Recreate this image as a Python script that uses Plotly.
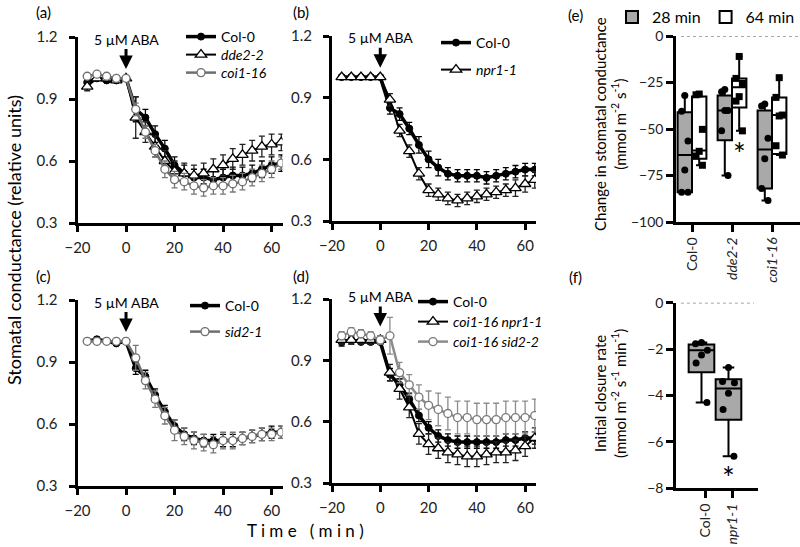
import plotly.graph_objects as go

W, H = 800, 547
FONT = "Lato"

def fx(p):
    return p / W

def fy(p):
    return 1 - p / H

# ---------------- data ----------------
t = [-16, -12, -8, -4, 0, 4, 8, 12, 16, 20, 24, 28, 32, 36, 40, 44, 48, 52, 56, 60, 64]

a_col0 = [0.98, 1.00, 0.99, 0.99, 1.00, 0.85, 0.81, 0.73, 0.66, 0.58, 0.54, 0.52, 0.52, 0.51, 0.52, 0.53, 0.53, 0.54, 0.56, 0.58, 0.59]
a_col0_e = [0.01, 0.01, 0.01, 0.01, 0.01, 0.06, 0.04, 0.04, 0.04, 0.04, 0.04, 0.04, 0.04, 0.04, 0.04, 0.04, 0.04, 0.04, 0.04, 0.04, 0.04]
a_dde = [0.96, 1.00, 1.00, 0.99, 1.00, 0.81, 0.74, 0.67, 0.60, 0.55, 0.54, 0.53, 0.54, 0.56, 0.58, 0.61, 0.63, 0.65, 0.67, 0.68, 0.69]
a_dde_e = [0.02, 0.01, 0.01, 0.01, 0.01, 0.10, 0.05, 0.05, 0.05, 0.05, 0.05, 0.05, 0.05, 0.05, 0.05, 0.05, 0.05, 0.05, 0.05, 0.05, 0.04]
a_coi = [1.01, 1.02, 1.01, 1.00, 1.00, 0.85, 0.74, 0.65, 0.56, 0.51, 0.50, 0.48, 0.47, 0.48, 0.48, 0.49, 0.50, 0.52, 0.54, 0.56, 0.59]
a_coi_e = [0.01, 0.01, 0.01, 0.01, 0.01, 0.03, 0.03, 0.03, 0.04, 0.04, 0.04, 0.04, 0.04, 0.04, 0.04, 0.04, 0.04, 0.04, 0.04, 0.04, 0.03]

b_col0 = [1.00, 1.00, 1.00, 1.00, 1.00, 0.85, 0.82, 0.75, 0.67, 0.60, 0.56, 0.53, 0.52, 0.52, 0.52, 0.51, 0.52, 0.53, 0.54, 0.55, 0.55]
b_col0_e = [0.01, 0.01, 0.01, 0.01, 0.01, 0.03, 0.03, 0.03, 0.04, 0.04, 0.04, 0.03, 0.03, 0.03, 0.03, 0.03, 0.03, 0.03, 0.03, 0.03, 0.03]
b_npr = [1.00, 1.00, 1.00, 1.00, 1.00, 0.89, 0.74, 0.64, 0.53, 0.45, 0.43, 0.41, 0.40, 0.41, 0.42, 0.43, 0.44, 0.45, 0.46, 0.48, 0.50]
b_npr_e = [0.01, 0.01, 0.01, 0.01, 0.01, 0.03, 0.03, 0.03, 0.03, 0.03, 0.03, 0.03, 0.03, 0.03, 0.03, 0.03, 0.03, 0.03, 0.04, 0.04, 0.04]

c_col0 = [1.00, 1.01, 1.00, 0.99, 1.00, 0.87, 0.83, 0.74, 0.66, 0.59, 0.55, 0.53, 0.52, 0.52, 0.52, 0.52, 0.53, 0.54, 0.55, 0.56, 0.56]
c_col0_e = [0.01, 0.01, 0.01, 0.01, 0.01, 0.03, 0.03, 0.03, 0.03, 0.03, 0.03, 0.03, 0.03, 0.03, 0.03, 0.03, 0.03, 0.03, 0.03, 0.03, 0.03]
c_sid = [1.00, 1.00, 1.00, 1.00, 1.00, 0.92, 0.81, 0.72, 0.64, 0.57, 0.54, 0.52, 0.51, 0.50, 0.52, 0.52, 0.53, 0.54, 0.55, 0.55, 0.56]
c_sid_e = [0.01, 0.01, 0.01, 0.01, 0.01, 0.06, 0.04, 0.04, 0.04, 0.05, 0.04, 0.04, 0.04, 0.04, 0.04, 0.04, 0.03, 0.03, 0.03, 0.03, 0.03]

d_col0 = [0.99, 1.00, 0.99, 0.99, 0.99, 0.83, 0.78, 0.71, 0.63, 0.57, 0.53, 0.51, 0.50, 0.50, 0.50, 0.50, 0.50, 0.51, 0.51, 0.52, 0.52]
d_col0_e = [0.02, 0.02, 0.01, 0.01, 0.01, 0.03, 0.03, 0.03, 0.03, 0.03, 0.03, 0.03, 0.03, 0.03, 0.03, 0.03, 0.03, 0.03, 0.03, 0.03, 0.03]
d_npr = [1.00, 1.00, 1.00, 1.00, 1.00, 0.84, 0.76, 0.67, 0.54, 0.49, 0.47, 0.45, 0.44, 0.43, 0.43, 0.44, 0.45, 0.45, 0.46, 0.48, 0.52]
d_npr_e = [0.02, 0.02, 0.02, 0.02, 0.02, 0.04, 0.05, 0.05, 0.05, 0.05, 0.05, 0.05, 0.05, 0.05, 0.05, 0.05, 0.05, 0.05, 0.05, 0.05, 0.05]
d_sid = [1.02, 1.04, 1.03, 1.02, 1.00, 1.02, 0.84, 0.78, 0.72, 0.68, 0.66, 0.64, 0.62, 0.62, 0.61, 0.61, 0.61, 0.62, 0.62, 0.62, 0.63]
d_sid_e = [0.02, 0.02, 0.02, 0.02, 0.02, 0.09, 0.05, 0.05, 0.06, 0.07, 0.08, 0.08, 0.08, 0.08, 0.08, 0.08, 0.08, 0.08, 0.08, 0.08, 0.08]

# panel e: change in stomatal conductance (mmol m-2 s-1)
e_groups = ["Col-0", "<i>dde2-2</i>", "<i>coi1-16</i>"]
e28_upper = [-32.0, -28.7, -36.6]
e28_q3 = [-41.0, -32.0, -40.0]
e28_median = [-64.0, -40.0, -61.0]
e28_q1 = [-84.0, -56.0, -82.0]
e28_lower = [-84.0, -75.0, -88.5]
e28_points = [[-32.0, -40.5, -56.5, -72.0, -84.0, -84.0],
              [-28.7, -30.0, -40.0, -40.0, -51.0, -75.0],
              [-36.6, -37.6, -55.0, -66.0, -82.0, -88.5]]
e64_upper = [-31.2, -11.0, -22.4]
e64_q3 = [-32.5, -22.8, -33.0]
e64_median = [-61.5, -27.5, -42.5]
e64_q1 = [-66.0, -38.5, -63.5]
e64_lower = [-69.5, -51.0, -64.0]
e64_points = [[-31.2, -31.6, -50.2, -62.0, -64.5, -69.5],
              [-11.0, -22.8, -25.5, -32.6, -35.0, -51.0],
              [-22.4, -33.0, -42.5, -43.0, -59.0, -64.0]]

# panel f: initial closure rate
f_groups = ["Col-0", "<i>npr1-1</i>"]
f_upper = [-1.72, -2.79]
f_q3 = [-1.80, -3.30]
f_median = [-2.05, -3.70]
f_q1 = [-3.00, -5.05]
f_lower = [-4.30, -6.62]
f_points = [[-1.72, -1.77, -2.05, -2.25, -2.60, -4.30],
            [-2.79, -3.40, -3.45, -3.90, -4.60, -6.62]]

# ---------------- figure ----------------
fig = go.Figure()

STY = {
    "col0": dict(line=dict(color="black", width=3.5),
                 marker=dict(symbol="circle", size=7, color="black", line=dict(color="black", width=1)),
                 ecol="black"),
    "tri": dict(line=dict(color="black", width=2),
                marker=dict(symbol="triangle-up", size=10, color="white", line=dict(color="black", width=1.3)),
                ecol="#222222"),
    "circ": dict(line=dict(color="#6e6e6e", width=2.5),
                 marker=dict(symbol="circle", size=8, color="white", line=dict(color="#6e6e6e", width=1.3)),
                 ecol="#777777"),
    "circl": dict(line=dict(color="#8c8c8c", width=2.5),
                  marker=dict(symbol="circle", size=8, color="white", line=dict(color="#7a7a7a", width=1.3)),
                  ecol="#8c8c8c"),
}

legends = {}
LEG_FONT = dict(size=14, color="black", family=FONT)


def add_series(n, y, err, name, sty, leg_key, leg_px, leg_py):
    s = STY[sty]
    sfx = "" if n == 1 else str(n)
    fig.add_trace(go.Scatter(
        x=t, y=y, name=name, mode="lines+markers",
        line=s["line"], marker=s["marker"],
        error_y=dict(type="data", array=err, color=s["ecol"], thickness=1.3, width=3),
        xaxis="x" + sfx, yaxis="y" + sfx, legend=leg_key,
    ))
    legends[leg_key] = dict(bgcolor="rgba(0,0,0,0)", font=LEG_FONT, x=fx(leg_px), y=fy(leg_py),
                            xanchor="left", yanchor="middle")


add_series(1, a_col0, a_col0_e, "Col-0", "col0", "legend", 181, 37)
add_series(1, a_dde, a_dde_e, "<i>dde2-2</i>", "tri", "legend2", 181, 55)
add_series(1, a_coi, a_coi_e, "<i>coi1-16</i>", "circ", "legend3", 181, 73)

add_series(2, b_col0, b_col0_e, "Col-0", "col0", "legend4", 436, 43)
add_series(2, b_npr, b_npr_e, "<i>npr1-1</i>", "tri", "legend5", 436, 70)

add_series(3, c_col0, c_col0_e, "Col-0", "col0", "legend6", 185, 306)
add_series(3, c_sid, c_sid_e, "<i>sid2-1</i>", "circ", "legend7", 185, 332)

add_series(4, d_col0, d_col0_e, "Col-0", "col0", "legend8", 413, 302)
add_series(4, d_npr, d_npr_e, "<i>coi1-16 npr1-1</i>", "tri", "legend9", 413, 322)
add_series(4, d_sid, d_sid_e, "<i>coi1-16 sid2-2</i>", "circl", "legend10", 413, 342)

# panel e boxes
E_OFF = 0.18
E_W = 0.36
jit = [0.0, -0.08, 0.08, 0.0, -0.08, 0.08]
pos28 = [i - E_OFF for i in range(len(e_groups))]
pos64 = [i + E_OFF for i in range(len(e_groups))]
fig.add_trace(go.Box(x=pos28, q1=e28_q1, median=e28_median, q3=e28_q3,
                     lowerfence=e28_lower, upperfence=e28_upper, width=E_W,
                     fillcolor="#a9a9a9", line=dict(color="black", width=2),
                     whiskerwidth=0.45, boxpoints=False, name="28 min",
                     xaxis="x5", yaxis="y5", legend="legend11", hoverinfo="skip"))
fig.add_trace(go.Box(x=pos64, q1=e64_q1, median=e64_median, q3=e64_q3,
                     lowerfence=e64_lower, upperfence=e64_upper, width=E_W,
                     fillcolor="white", line=dict(color="black", width=2),
                     whiskerwidth=0.45, boxpoints=False, name="64 min",
                     xaxis="x5", yaxis="y5", legend="legend11", hoverinfo="skip"))
for i, pts in enumerate(e28_points):
    fig.add_trace(go.Scatter(x=[pos28[i] + jit[k % len(jit)] for k in range(len(pts))], y=pts,
                             mode="markers", marker=dict(symbol="circle", size=7, color="black"),
                             xaxis="x5", yaxis="y5", showlegend=False))
for i, pts in enumerate(e64_points):
    fig.add_trace(go.Scatter(x=[pos64[i] + jit[k % len(jit)] for k in range(len(pts))], y=pts,
                             mode="markers", marker=dict(symbol="square", size=7, color="black"),
                             xaxis="x5", yaxis="y5", showlegend=False))

# panel f boxes
F_OFF = -0.13
posf = [i + F_OFF for i in range(len(f_groups))]
fig.add_trace(go.Box(x=posf, q1=f_q1, median=f_median, q3=f_q3,
                     lowerfence=f_lower, upperfence=f_upper, width=0.95,
                     fillcolor="#a9a9a9", line=dict(color="black", width=2),
                     whiskerwidth=0.45, boxpoints=False, showlegend=False,
                     xaxis="x6", yaxis="y6", hoverinfo="skip"))
jitf = [0.0, -0.22, 0.22, 0.0, -0.2, 0.2]
for i, pts in enumerate(f_points):
    fig.add_trace(go.Scatter(x=[posf[i] + jitf[k % len(jitf)] for k in range(len(pts))], y=pts,
                             mode="markers", marker=dict(symbol="circle", size=7, color="black"),
                             xaxis="x6", yaxis="y6", showlegend=False))

# ---------------- axes ----------------
def tl_axes(xdom, ydom, n):
    sfx = "" if n == 1 else str(n)
    common = dict(showline=True, linecolor="black", linewidth=3, ticks="outside",
                  ticklen=6, tickwidth=3, tickcolor="black", showgrid=False,
                  zeroline=False, automargin=False,
                  tickfont=dict(size=15, color="#222", family=FONT))
    xa = dict(common, domain=[fx(xdom[0]), fx(xdom[1])], range=[-20, 64.5],
              tickvals=[-20, 0, 20, 40, 60], anchor="y" + sfx, ticklabelstandoff=3)
    ya = dict(common, domain=[fy(ydom[1]), fy(ydom[0])], range=[0.3, 1.2],
              tickvals=[0.3, 0.6, 0.9, 1.2], ticktext=["0.3", "0.6", "0.9", "1.2"],
              anchor="x" + sfx, ticklabelstandoff=8)
    return xa, ya


xa1, ya1 = tl_axes((77.5, 282.5), (37, 223), 1)
xa2, ya2 = tl_axes((332, 536), (36, 221), 2)
xa3, ya3 = tl_axes((77.5, 282.5), (300, 486), 3)
xa4, ya4 = tl_axes((332, 536), (299, 483), 4)

bx = dict(showline=True, linecolor="black", linewidth=2.5, ticks="outside",
          ticklen=7, tickwidth=2.5, tickcolor="black", showgrid=False, zeroline=False,
          automargin=False, tickfont=dict(size=14, color="#222", family=FONT))
xa5 = dict(bx, domain=[fx(676), fx(800)], range=[-0.4, 2.7], tickvals=list(range(len(e_groups))),
           ticktext=e_groups, tickangle=-90, anchor="y5")
ya5 = dict(bx, domain=[fy(222), fy(36)], range=[-100, 0], tickvals=[0, -25, -50, -75, -100],
           anchor="x5")
xa6 = dict(bx, domain=[fx(676), fx(758)], range=[-1.074, 1.963], tickvals=list(range(len(f_groups))),
           ticktext=f_groups, tickangle=-90, anchor="y6")
ya6 = dict(bx, domain=[fy(488.3), fy(302.7)], range=[-8, 0], tickvals=[0, -2, -4, -6, -8],
           anchor="x6")

legends["legend11"] = dict(bgcolor="rgba(0,0,0,0)", font=dict(size=16, color="black", family=FONT),
                           orientation="h", x=fx(612), y=1.0, xanchor="left", yanchor="top")

ann = []
# arrows
for sfx, yhead in [("", 1.045), ("2", 1.045), ("3", 1.045), ("4", 1.065)]:
    ann.append(dict(xref="x" + sfx, yref="y" + sfx, x=0, y=yhead, ax=0, ay=-30,
                    text="5 µM ABA", showarrow=True, arrowhead=2, arrowsize=0.9,
                    arrowwidth=3, arrowcolor="black",
                    font=dict(size=14, color="black", family=FONT)))
# panel labels
for lab, x, y in [("(a)", 43, 12), ("(b)", 301, 12), ("(c)", 43, 276), ("(d)", 301, 276),
                  ("(e)", 575, 15), ("(f)", 575, 277)]:
    ann.append(dict(xref="paper", yref="paper", x=fx(x), y=fy(y), text=lab, showarrow=False,
                    xanchor="center", yanchor="middle", font=dict(size=15, color="black", family=FONT)))
# titles
ann.append(dict(xref="paper", yref="paper", x=fx(14), y=fy(240), textangle=-90,
                text="Stomatal conductance (relative units)", showarrow=False,
                xanchor="center", yanchor="middle", font=dict(size=18, color="black", family=FONT)))
ann.append(dict(xref="paper", yref="paper", x=fx(305), y=fy(530),
                text="T i m e   ( m i n )", showarrow=False,
                xanchor="center", yanchor="middle", font=dict(size=17, color="black", family=FONT)))
ann.append(dict(xref="paper", yref="paper", x=fx(610), y=fy(124), textangle=-90,
                text="Change in stomatal conductance<br>(mmol m<sup>-2</sup> s<sup>-1</sup>)",
                showarrow=False, xanchor="center", yanchor="middle",
                font=dict(size=15, color="black", family=FONT)))
ann.append(dict(xref="paper", yref="paper", x=fx(610), y=fy(394), textangle=-90,
                text="Initial closure rate<br>(mmol m<sup>-2</sup> s<sup>-1</sup> min<sup>-1</sup>)",
                showarrow=False, xanchor="center", yanchor="middle",
                font=dict(size=15, color="black", family=FONT)))
# asterisks
ann.append(dict(xref="x5", yref="y5", x=1 + E_OFF, y=-59, text="*", showarrow=False,
                yshift=-7, font=dict(size=30, color="black", family=FONT)))
ann.append(dict(xref="x6", yref="y6", x=1 + F_OFF, y=-7.2, text="*", showarrow=False,
                yshift=-7, font=dict(size=30, color="black", family=FONT)))

shapes = [
    dict(type="line", xref="x5 domain", yref="y5", x0=0.04, x1=1, y0=0, y1=0,
         line=dict(color="#8a8a8a", width=1.5, dash="dot")),
    dict(type="line", xref="x6 domain", yref="y6", x0=0.06, x1=0.95, y0=0, y1=0,
         line=dict(color="#8a8a8a", width=1.5, dash="dot")),
]

fig.update_layout(
    width=W, height=H, margin=dict(l=0, r=0, t=0, b=0, autoexpand=False),
    paper_bgcolor="white", plot_bgcolor="white",
    font=dict(family=FONT, color="black"),
    xaxis=xa1, yaxis=ya1, xaxis2=xa2, yaxis2=ya2, xaxis3=xa3, yaxis3=ya3,
    xaxis4=xa4, yaxis4=ya4, xaxis5=xa5, yaxis5=ya5, xaxis6=xa6, yaxis6=ya6,
    annotations=ann, shapes=shapes, boxmode="overlay", hovermode=False,
    **legends,
)

fig.write_html("out.html", config={"displayModeBar": False},
               post_script="document.body.style.margin='0px';")
